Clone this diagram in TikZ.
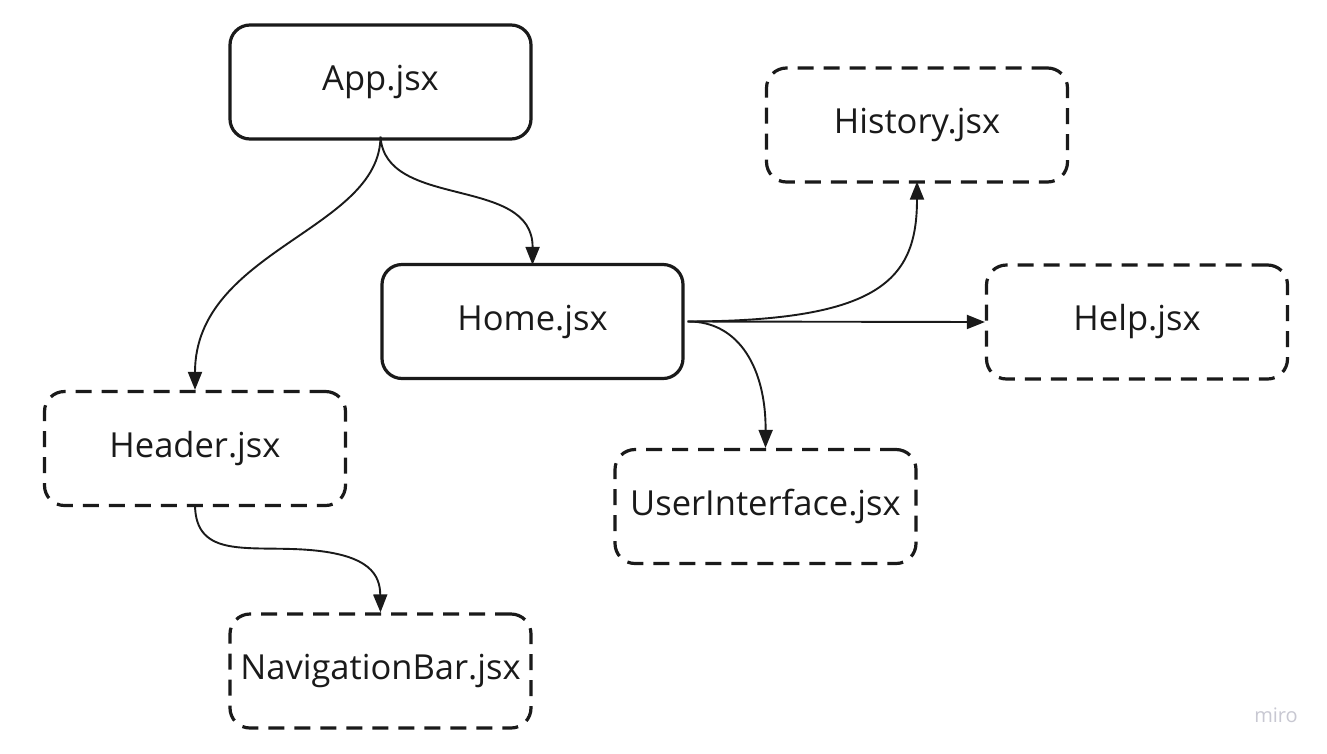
\documentclass[tikz,border=0pt]{standalone}
\usepackage{fontspec}
\setmainfont{Open Sans}
\usetikzlibrary{arrows.meta}
\definecolor{ink}{HTML}{1A1A1A}
\definecolor{mirogray}{HTML}{C8C8D2}
\tikzset{
  box/.style={draw=ink, line width=3.2pt, rounded corners=20pt, minimum width=301pt, minimum height=114pt, inner sep=0pt, font=\fontsize{34.5}{40}\selectfont, text=ink},
  solidbox/.style={box},
  dashbox/.style={box, dash pattern=on 16pt off 10pt},
  conn/.style={draw=ink, line width=1.9pt, -{Triangle[length=18pt,width=14pt]}},
}
\begin{document}
\begin{tikzpicture}[x=1pt,y=-1pt]
\useasboundingbox[fill=white] (0,0) rectangle (1327,753);
\node[solidbox] (app) at (380.5,82) {App.jsx};
\node[dashbox] (history) at (917,125) {History.jsx};
\node[solidbox] (home) at (532.5,321.5) {Home.jsx};
\node[dashbox] (help) at (1137,322) {Help.jsx};
\node[dashbox] (header) at (195,448.5) {Header.jsx};
\node[dashbox] (ui) at (765.5,506.5) {UserInterface.jsx};
\node[dashbox] (nav) at (380.5,671) {NavigationBar.jsx};
\node[text=mirogray, font=\fontsize{20}{24}\selectfont] (miro) at (1276,715) {miro};
\coordinate (appout) at ([yshift=4pt]app.south);
\coordinate (homeout) at ([xshift=3pt]home.east);
\coordinate (headout) at ([yshift=3pt]header.south);
\draw[conn] (appout) .. controls (380,230) and (195,250) .. (header.north);
\draw[conn] (appout) .. controls (385,210) and (533,175) .. ([yshift=-2pt]home.north);
\draw[conn] (homeout) .. controls (880,321) and (917,280) .. ([yshift=2pt]history.south);
\draw[conn] (homeout) -- (help.west);
\draw[conn] (homeout) .. controls (740,321) and (766,370) .. (ui.north);
\draw[conn] (headout) .. controls (195,560) and (250,545) .. (310,550) .. controls (370,555) and (380,575) .. (nav.north);
\end{tikzpicture}
\end{document}
